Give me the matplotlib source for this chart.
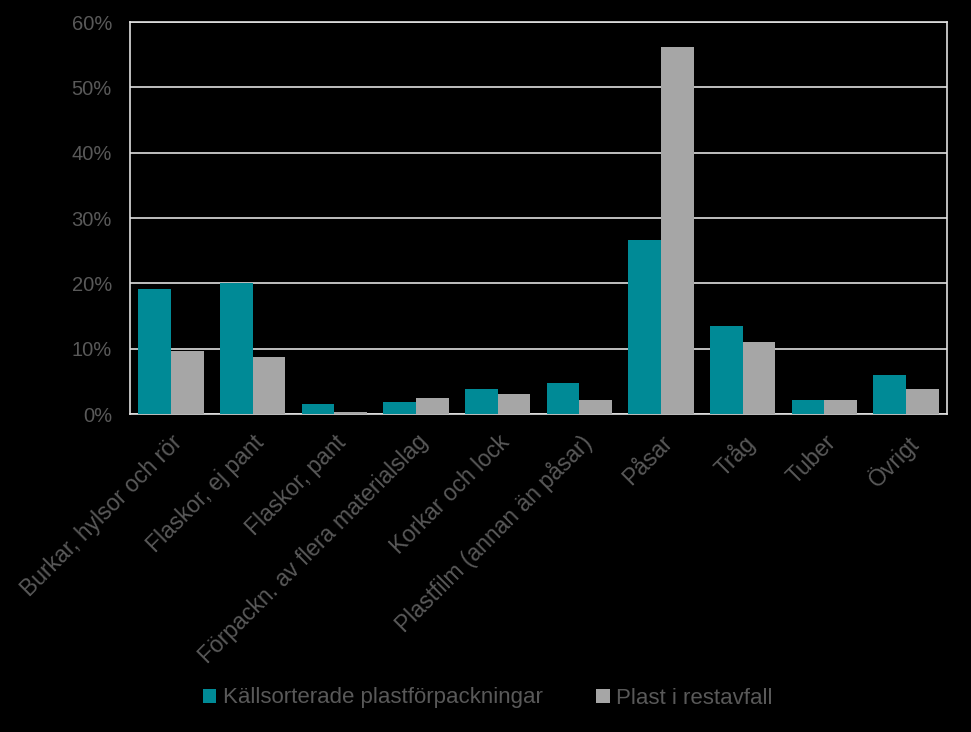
import numpy as np
import matplotlib
matplotlib.use('Agg')
import matplotlib.pyplot as plt
from matplotlib.ticker import FuncFormatter

categories = ['Burkar, hylsor och rör', 'Flaskor, ej pant', 'Flaskor, pant',
              'Förpackn. av flera materialslag', 'Korkar och lock',
              'Plastfilm (annan än påsar)', 'Påsar', 'Tråg', 'Tuber', 'Övrigt']
kallsorterade = [19.2, 20.0, 1.5, 1.8, 3.8, 4.7, 26.6, 13.4, 2.2, 5.9]
restavfall = [9.7, 8.7, 0.3, 2.4, 3.1, 2.1, 56.1, 11.0, 2.1, 3.8]
series_names = ['Källsorterade plastförpackningar', 'Plast i restavfall']

teal = '#008A96'
grey = '#A6A6A6'
text_col = '#595959'

plt.rcParams['font.family'] = ['Liberation Sans', 'DejaVu Sans']

fig = plt.figure(figsize=(9.71, 7.32), dpi=100, facecolor='black')
ax = fig.add_axes([130 / 971, 1 - 414 / 732, 817 / 971, 392 / 732], facecolor='black')

x = np.arange(len(categories))
w = 0.4
ax.bar(x - w / 2, kallsorterade, w, color=teal, label=series_names[0], zorder=3)
ax.bar(x + w / 2, restavfall, w, color=grey, label=series_names[1], zorder=3)

ax.set_xlim(-0.5, len(categories) - 0.5)
ax.set_ylim(0, 60)
ax.set_yticks(range(0, 61, 10))
ax.yaxis.set_major_formatter(FuncFormatter(lambda v, p: f'{int(v)}%'))
ax.grid(axis='y', color='#E0E0E0', lw=1.2, zorder=0)
for s in ax.spines.values():
    s.set_color('#E0E0E0')
    s.set_linewidth(1.2)

ax.set_xticks(x)
ax.set_xticklabels(categories, rotation=45, ha='right', rotation_mode='anchor')
ax.tick_params(axis='both', length=0, labelcolor=text_col)
ax.tick_params(axis='y', pad=13, labelsize=14.5)
ax.tick_params(axis='x', pad=12, labelsize=16.5)

leg = fig.legend(loc='center', bbox_to_anchor=(488 / 971, 1 - 698 / 732), ncol=2,
                 frameon=False, fontsize=16, handlelength=0.6, handleheight=0.6,
                 handletextpad=0.3, columnspacing=2.4)
for t in leg.get_texts():
    t.set_color(text_col)

fig.savefig('out.png', dpi=100, facecolor='black')
